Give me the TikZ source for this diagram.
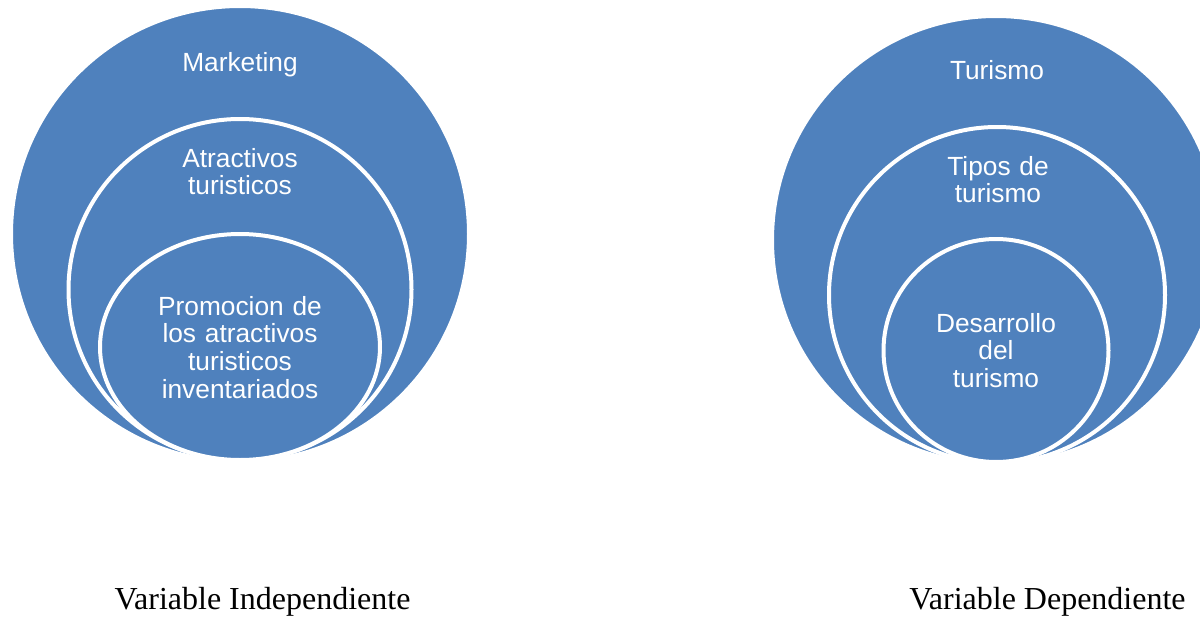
\documentclass[tikz,border=0pt]{standalone}
\usepackage{fontspec}
\setmainfont{Liberation Serif}
\newfontfamily\arialsans{Liberation Sans}
\definecolor{vennblue}{HTML}{4F81BD}
\begin{document}
\begin{tikzpicture}[x=1pt,y=-1pt,
  venn/.style={fill=vennblue,draw=white,line width=4pt},
  inlabel/.style={text=white,font=\arialsans\fontsize{26.3}{27.7}\selectfont,align=center,text width=300pt,inner sep=0pt,anchor=base},
  varlabel/.style={text=black,font=\fontsize{32}{36}\selectfont,inner sep=0pt,anchor=base}]
\useasboundingbox[fill=white] (0,0) rectangle (1200,621);
% left group
\path[venn] (240,234) ellipse [x radius=229,y radius=228];
\path[venn] (240,289.5) ellipse [x radius=171.5,y radius=170.5];
\path[venn] (240,347) ellipse [x radius=140,y radius=113];
% right group
\path[venn] (996,240) circle [radius=224];
\path[venn] (997,295) circle [radius=168];
\path[venn] (996,350.5) ellipse [x radius=112.5,y radius=111.5];
% labels
\node[inlabel] (mk) at (240,71) {Marketing};
\node[inlabel] (at) at (240,167) {Atractivos\\turisticos};
\node[inlabel] (pr) at (240,315) {Promocion de\\los atractivos\\turisticos\\inventariados};
\node[inlabel] (tu) at (997,79) {Turismo};
\node[inlabel] (ti) at (998,175) {Tipos de\\turismo};
\node[inlabel] (de) at (996,332) {Desarrollo\\del\\turismo};
\node[varlabel] (vi) at (262.5,609) {Variable Independiente};
\node[varlabel] (vd) at (1047.5,609) {Variable Dependiente};
\end{tikzpicture}
\end{document}
